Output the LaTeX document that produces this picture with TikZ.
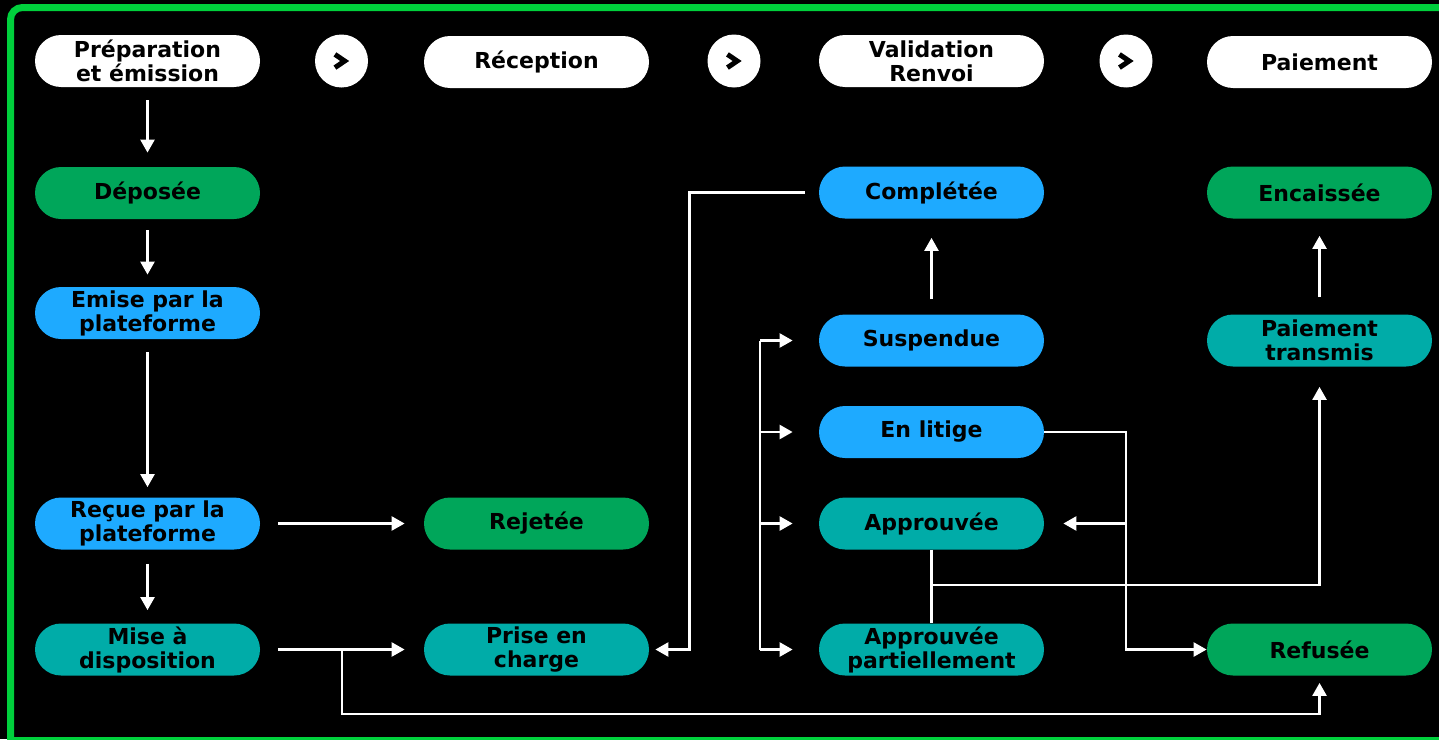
\documentclass[tikz,border=0pt]{standalone}
\usepackage{fontspec}
\setmainfont{DejaVu Sans}
\usetikzlibrary{arrows.meta}
\definecolor{vert}{RGB}{0,166,90}
\definecolor{bleu}{RGB}{30,170,255}
\definecolor{turquoise}{RGB}{0,172,168}
\definecolor{cadre}{RGB}{0,208,60}
\begin{document}
\begin{tikzpicture}[x=0.5pt, y=-0.5pt,
    etat/.style={rounded corners=13pt, minimum width=112.5pt, minimum height=26pt,
        inner sep=0pt, align=center, text=black,
        font=\fontsize{11pt}{12pt}\selectfont\bfseries},
    etape/.style={etat, fill=white},
    rond/.style={circle, fill=white, minimum size=26.5pt, inner sep=0pt},
    flow/.style={white, line width=1.25pt, -{Triangle[length=6.5pt,width=7pt]}},
    trait/.style={white, line width=1.25pt}]

    % fond et cadre
    \useasboundingbox (0,0) rectangle (1439,739);
    \fill[black] (0,0) rectangle (1439,739);
    \draw[cadre, line width=3.5pt, rounded corners=6pt] (10.5,760) |- (1460,7.5);
    \draw[cadre, line width=3.5pt] (10.5,740.5) -- (1460,740.5);

    % etapes du haut
    \node[etape] (hprep) at (147.5,61) {Préparation\\et émission};
    \node[etape] (hrecep) at (536.5,62) {Réception};
    \node[etape] (hvalid) at (931.5,61) {Validation\\Renvoi};
    \node[etape] (hpaie) at (1319.5,62) {Paiement};

    % ronds avec chevron
    \node[rond] (c1) at (341.5,61) {};
    \node[rond] (c2) at (734,61) {};
    \node[rond] (c3) at (1126,61) {};
    \foreach \c in {c1,c2,c3} {
        \draw[black, line width=2.5pt] ([xshift=-3.3pt,yshift=3.3pt]\c.center)
            -- ([xshift=1.6pt]\c.center) -- ([xshift=-3.3pt,yshift=-3.3pt]\c.center);
    }

    % colonne 1
    \node[etat, fill=vert] (depo) at (147.5,193) {Déposée};
    \node[etat, fill=bleu] (emis) at (147.5,313) {Emise par la\\plateforme};
    \node[etat, fill=bleu] (recu) at (147.5,523.5) {Reçue par la\\plateforme};
    \node[etat, fill=turquoise] (mise) at (147.5,649.5) {Mise à\\disposition};

    % colonne 2
    \node[etat, fill=vert] (reje) at (536.5,523.5) {Rejetée};
    \node[etat, fill=turquoise] (prise) at (536.5,649.5) {Prise en\\charge};

    % colonne 3
    \node[etat, fill=bleu] (comp) at (931.5,192.5) {Complétée};
    \node[etat, fill=bleu] (susp) at (931.5,340.5) {Suspendue};
    \node[etat, fill=bleu] (liti) at (931.5,432) {En litige};
    \node[etat, fill=turquoise] (appr) at (931.5,523.5) {Approuvée};
    \node[etat, fill=turquoise] (part) at (931.5,649.5) {Approuvée\\partiellement};

    % colonne 4
    \node[etat, fill=vert] (enca) at (1319.5,192.5) {Encaissée};
    \node[etat, fill=turquoise] (trans) at (1319.5,340.5) {Paiement\\transmis};
    \node[etat, fill=vert] (refu) at (1319.5,649.5) {Refusée};

    % fleches verticales colonne 1
    \draw[flow, shorten <=6.5pt, shorten >=7pt] (hprep) -- (depo);
    \draw[flow, shorten <=5.5pt, shorten >=6pt] (depo) -- (emis);
    \draw[flow, shorten <=6.5pt, shorten >=5pt] (emis) -- (recu);
    \draw[flow, shorten <=7pt, shorten >=6.5pt] (recu) -- (mise);

    % vers la colonne 2
    \draw[flow, shorten <=9pt, shorten >=9.5pt] (recu) -- (reje);
    \draw[flow, shorten <=9pt, shorten >=9.5pt] (mise) -- (prise);
    \coordinate (split) at (342,649.5);
    \draw[flow, shorten >=3.5pt] (split) -- ++(0,64.5) -| (refu.south);

    % retour de Complétée
    \draw[flow, shorten <=7pt, shorten >=3pt] (comp.west) -- ++(-129,0) |- (prise.east);

    % accolade vers la colonne 3
    \coordinate (bus) at (760,0);
    \draw[trait] (bus |- susp.west) -- (bus |- part.west);
    \foreach \n in {susp,liti,appr,part} {
        \draw[flow, shorten >=13pt] (bus |- \n.west) -- (\n.west);
    }
    \draw[flow, shorten <=7.5pt, shorten >=9.5pt] (susp) -- (comp);

    % depuis En litige
    \coordinate (fork) at (1126,0);
    \draw[flow] (liti.east) -- (fork |- liti.east) |- (refu.west);
    \draw[flow, shorten >=9.5pt] (fork |- appr.east) -- (appr.east);

    % depuis Approuvée
    \draw[trait] (appr.south) -- (part.north);
    \coordinate (jonc) at (931.5,585);
    \draw[flow, shorten >=10pt] (jonc) -| (trans.south);
    \draw[flow, shorten <=8.5pt, shorten >=8.5pt] (trans) -- (enca);
\end{tikzpicture}
\end{document}
